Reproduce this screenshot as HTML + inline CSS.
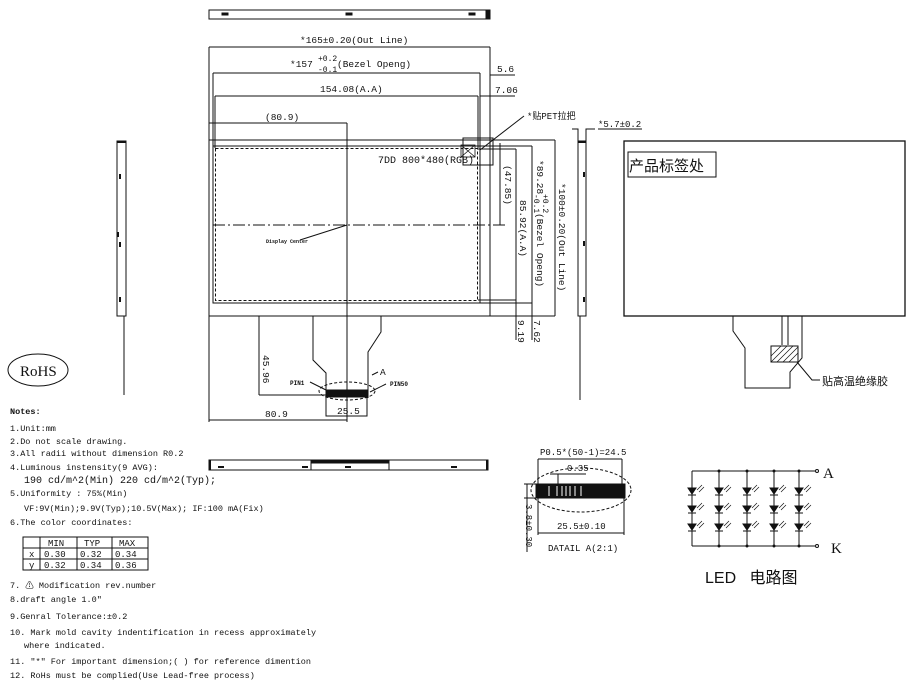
<!DOCTYPE html>
<html><head><meta charset="utf-8"><style>
body{margin:0;background:#fff;}
svg{display:block;}
text{font-family:"Liberation Mono","Noto Sans CJK SC",monospace;fill:#111;}
.s{font-family:"Liberation Sans","Noto Sans CJK SC",sans-serif;}
</style></head><body>
<svg width="920" height="698" viewBox="0 0 920 698" xmlns="http://www.w3.org/2000/svg" stroke="#111" fill="none" stroke-width="1">
<!-- top strip -->
<rect x="209" y="10" width="281" height="9"/>
<rect x="222" y="13" width="6" height="2" fill="#111"/><rect x="346" y="13" width="6" height="2" fill="#111"/><rect x="469" y="13" width="6" height="2" fill="#111"/>
<rect x="486" y="10" width="3" height="9" fill="#111"/>
<!-- extension lines -->
<line x1="209" y1="47" x2="209" y2="422"/>
<line x1="490" y1="47" x2="490" y2="316"/>
<line x1="209" y1="47" x2="490" y2="47"/>
<line x1="213" y1="73" x2="480" y2="73"/>
<line x1="213" y1="73" x2="213" y2="146"/><line x1="480" y1="73" x2="480" y2="146"/>
<line x1="215" y1="96" x2="478" y2="96"/>
<line x1="215" y1="96" x2="215" y2="148"/><line x1="478" y1="96" x2="478" y2="148"/>
<line x1="209" y1="123" x2="347" y2="123"/>
<line x1="490" y1="75" x2="515" y2="75"/><line x1="480" y1="96" x2="515" y2="96"/>
<g stroke="none" font-size="9.5">
<text x="300" y="43">*165±0.20(Out Line)</text>
<text x="290" y="67">*157</text><text x="318" y="61" font-size="8">+0.2</text><text x="318" y="72" font-size="8">-0.1</text><text x="337" y="67">(Bezel Openg)</text>
<text x="320" y="92">154.08(A.A)</text>
<text x="265" y="120">(80.9)</text>
<text x="497" y="72">5.6</text>
<text x="495" y="93">7.06</text>
<text x="527" y="119" font-size="9">*贴PET拉把</text>
<text x="378" y="163" font-size="10">7DD 800*480(RGB)</text>
<text x="266" y="243" font-size="5" font-weight="bold">Display Center</text>
</g>
<line x1="480" y1="150" x2="524" y2="116"/>
<!-- main panel -->
<rect x="209" y="140" width="281" height="176"/>
<rect x="213" y="146" width="267" height="157"/>
<rect x="215.5" y="148.5" width="262" height="152" stroke-dasharray="3,2"/>
<line x1="347" y1="123" x2="347" y2="422"/>
<line x1="213" y1="225" x2="506" y2="225" stroke-dasharray="12,3,2,3"/>
<line x1="300" y1="240" x2="347" y2="225"/>
<rect x="463" y="138" width="30" height="27"/>
<rect x="461" y="145" width="14" height="12" stroke-width="0.8"/>
<path d="M461 145 L475 157 M475 145 L461 157" stroke-width="0.8"/>
<!-- right dims -->
<line x1="490" y1="140" x2="555" y2="140"/>
<line x1="480" y1="146" x2="532" y2="146"/>
<line x1="478" y1="149" x2="516" y2="149"/>
<line x1="478" y1="300" x2="516" y2="300"/>
<line x1="480" y1="303" x2="532" y2="303"/>
<line x1="490" y1="316" x2="555" y2="316"/>
<line x1="500" y1="143" x2="500" y2="225"/>
<line x1="516" y1="149" x2="516" y2="340"/>
<line x1="532" y1="146" x2="532" y2="340"/>
<line x1="555" y1="140" x2="555" y2="316"/>
<g stroke="none" font-size="9.5">
<text transform="translate(505,165) rotate(90)">(47.85)</text>
<text transform="translate(520,200) rotate(90)">85.92(A.A)</text>
<text transform="translate(537,160) rotate(90)">*89.28</text>
<text transform="translate(543,194) rotate(90)" font-size="8">+0.2</text>
<text transform="translate(534,194) rotate(90)" font-size="8">-0.1</text>
<text transform="translate(537,213) rotate(90)">(Bezel Openg)</text>
<text transform="translate(559,183) rotate(90)">*100±0.20(Out Line)</text>
<text transform="translate(518,320) rotate(90)">9.19</text>
<text transform="translate(534,320) rotate(90)">7.62</text>
</g>
<!-- FPC -->
<path d="M313 316 V360 L326 373 V398 M381 316 V332 L368 352 V398"/>
<rect x="326" y="390" width="42" height="7" fill="#111"/>
<path d="M326 397 V416 H367 V397"/>
<line x1="259" y1="316" x2="259" y2="395"/><line x1="259" y1="395" x2="326" y2="395"/>
<ellipse cx="347" cy="391" rx="28" ry="9" stroke-dasharray="3,2"/>
<line x1="209" y1="420" x2="347" y2="420"/>
<path d="M310 382 L326 390 M386 384 L370 392 M372 375 L378 372"/>
<g stroke="none" font-size="9.5">
<text transform="translate(263,355) rotate(90)">45.96</text>
<text x="290" y="385" font-size="6" font-weight="bold">PIN1</text>
<text x="390" y="386" font-size="6" font-weight="bold">PIN50</text>
<text x="380" y="375">A</text>
<text x="337" y="414">25.5</text>
<text x="265" y="417">80.9</text>
</g>
<!-- bottom strip -->
<rect x="209" y="460" width="279" height="10"/>
<rect x="311" y="460" width="78" height="3" fill="#111"/>
<line x1="311" y1="460" x2="311" y2="470"/><line x1="389" y1="460" x2="389" y2="470"/>
<g fill="#111" stroke="none"><rect x="218" y="466" width="6" height="2"/><rect x="302" y="466" width="6" height="2"/><rect x="345" y="466" width="6" height="2"/><rect x="451" y="466" width="6" height="2"/><rect x="486" y="460" width="2" height="10"/><rect x="209" y="460" width="2" height="10"/></g>
<!-- left side view -->
<rect x="117" y="141" width="9" height="175"/>
<line x1="124" y1="316" x2="124" y2="395"/>
<g fill="#111" stroke="none"><rect x="117" y="141" width="9" height="2"/><rect x="119" y="174" width="2" height="5"/><rect x="117" y="232" width="2" height="5"/><rect x="119" y="242" width="2" height="5"/><rect x="119" y="297" width="2" height="5"/></g>
<!-- right side view -->
<rect x="578" y="141" width="8" height="175"/>
<path d="M572 129 H578 V141 M586 141 V129 H595"/>
<line x1="580" y1="316" x2="580" y2="400"/>
<g fill="#111" stroke="none"><rect x="578" y="141" width="8" height="2"/><rect x="583" y="172" width="2" height="5"/><rect x="583" y="241" width="2" height="5"/><rect x="583" y="297" width="2" height="5"/></g>
<text x="598" y="127" font-size="9" stroke="none">*5.7±0.2</text>
<line x1="598" y1="129" x2="642" y2="129"/>
<!-- back view -->
<rect x="624" y="141" width="281" height="175" stroke-width="1.3"/>
<rect x="628" y="152" width="88" height="25"/>
<text x="629" y="171" font-size="15" class="s" stroke="none">产品标签处</text>
<path d="M733 316 V331 L745 348 V388 H790 V372 L802 358 V316"/>
<path d="M782 316 V345 M788 316 V345"/>
<rect x="771" y="346" width="27" height="16"/>
<path d="M771 356 L781 346 M771 362 L787 346 M777 362 L793 346 M783 362 L798 347 M789 362 L798 353" stroke-width="0.7"/>
<path d="M797 362 L812 380 H820"/>
<text x="822" y="385" font-size="11" class="s" stroke="none">贴高温绝缘胶</text>
<!-- RoHS -->
<ellipse cx="38" cy="370" rx="30" ry="16"/>
<text x="20" y="376" font-size="15" font-family="Liberation Serif" stroke="none" style="font-family:'Liberation Serif',serif">RoHS</text>
<!-- notes -->
<g stroke="none" font-size="8.5">
<text x="10" y="414" font-weight="bold">Notes:</text>
<text x="10" y="431">1.Unit:mm</text>
<text x="10" y="444">2.Do not scale drawing.</text>
<text x="10" y="456">3.All radii without dimension R0.2</text>
<text x="10" y="470">4.Luminous instensity(9 AVG):</text>
<text x="24" y="483" font-size="10">190 cd/m^2(Min) 220 cd/m^2(Typ);</text>
<text x="10" y="496">5.Uniformity : 75%(Min)</text>
<text x="24" y="511">VF:9V(Min);9.9V(Typ);10.5V(Max); IF:100 mA(Fix)</text>
<text x="10" y="525">6.The color coordinates:</text>
<text x="10" y="588">7. ⚠ Modification rev.number</text>
<text x="10" y="602">8.draft angle 1.0"</text>
<text x="10" y="619">9.Genral Tolerance:±0.2</text>
<text x="10" y="635">10. Mark mold cavity indentification in recess  approximately</text>
<text x="24" y="648">where indicated.</text>
<text x="10" y="664">11. "*" For important dimension;( ) for reference dimention</text>
<text x="10" y="678">12. RoHs must be complied(Use Lead-free process)</text>
</g>
<!-- table -->
<rect x="23" y="537" width="125" height="33"/>
<path d="M23 548 H148 M23 559 H148 M40 537 V570 M77 537 V570 M112 537 V570"/>
<g stroke="none" font-size="9">
<text x="48" y="546">MIN</text><text x="84" y="546">TYP</text><text x="119" y="546">MAX</text>
<text x="29" y="557">x</text><text x="44" y="557">0.30</text><text x="80" y="557">0.32</text><text x="115" y="557">0.34</text>
<text x="29" y="568">y</text><text x="44" y="568">0.32</text><text x="80" y="568">0.34</text><text x="115" y="568">0.36</text>
</g>
<!-- detail A -->
<text x="540" y="455" font-size="9" stroke="none">P0.5*(50-1)=24.5</text>
<line x1="538" y1="459" x2="622" y2="459"/>
<path d="M538 459 V484 M622 459 V484"/>
<text x="567" y="471" font-size="9" stroke="none">0.35</text>
<path d="M550 474 H586 M558 474 V484"/>
<ellipse cx="581" cy="490" rx="50" ry="22" stroke-dasharray="3,2"/>
<rect x="536" y="484" width="89" height="14" fill="#111"/>
<g stroke="#fff" stroke-width="1"><line x1="549" y1="486" x2="549" y2="496"/><line x1="557" y1="486" x2="557" y2="496"/><line x1="562" y1="486" x2="562" y2="496"/><line x1="566" y1="486" x2="566" y2="496"/><line x1="570" y1="486" x2="570" y2="496"/><line x1="575" y1="486" x2="575" y2="496"/><line x1="581" y1="486" x2="581" y2="496"/></g>
<path d="M524 484 H536 M524 498 H536 M527 484 V552"/>
<line x1="538" y1="533" x2="624" y2="533"/>
<path d="M538 498 V535 M624 498 V535"/>
<g stroke="none" font-size="9">
<text x="557" y="529">25.5±0.10</text>
<text x="548" y="551">DATAIL A(2:1)</text>
<text transform="translate(526,504) rotate(90)">3.8±0.30</text>
</g>
<!-- LED circuit -->
<path d="M692 471 H815 M692 546 H815 M692 471 V546 M719 471 V546 M747 471 V546 M774 471 V546 M799 471 V546"/>
<g fill="#111">
<circle cx="817" cy="471" r="1.5" fill="none"/><circle cx="817" cy="546" r="1.5" fill="none"/>
</g>
<g fill="#111" stroke="none">
<circle cx="719" cy="471" r="1.5"/><circle cx="747" cy="471" r="1.5"/><circle cx="774" cy="471" r="1.5"/><circle cx="799" cy="471" r="1.5"/>
<circle cx="719" cy="546" r="1.5"/><circle cx="747" cy="546" r="1.5"/><circle cx="774" cy="546" r="1.5"/><circle cx="799" cy="546" r="1.5"/>
</g>
<g id="leds">
<g id="col" fill="#111">
<path d="M688 488 H696 L692 494 Z"/><line x1="688" y1="495" x2="696" y2="495"/><path d="M697 490 L702 485 M699 492 L704 487" stroke-width="0.7"/>
<path d="M688 506 H696 L692 512 Z"/><line x1="688" y1="513" x2="696" y2="513"/><path d="M697 508 L702 503 M699 510 L704 505" stroke-width="0.7"/>
<path d="M688 524 H696 L692 530 Z"/><line x1="688" y1="531" x2="696" y2="531"/><path d="M697 526 L702 521 M699 528 L704 523" stroke-width="0.7"/>
</g>
<use href="#col" x="27"/><use href="#col" x="55"/><use href="#col" x="82"/><use href="#col" x="107"/>
</g>
<g stroke="none">
<text x="823" y="478" font-size="15" style="font-family:'Liberation Serif',serif">A</text>
<text x="831" y="553" font-size="15" style="font-family:'Liberation Serif',serif">K</text>
<text x="705" y="583" font-size="16" style="font-family:'Liberation Sans','Noto Sans CJK SC',sans-serif">LED &#160;&#160;电路图</text>
</g>
</svg>
</body></html>
